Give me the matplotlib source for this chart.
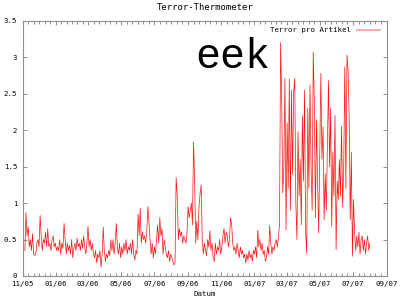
import numpy as np
import pandas as pd
import matplotlib
matplotlib.use('Agg')
import matplotlib.pyplot as plt
import matplotlib.dates as mdates
from matplotlib.lines import Line2D
from matplotlib.ticker import FixedLocator, FuncFormatter

plt.rcParams['font.family'] = 'DejaVu Sans Mono'
plt.rcParams['font.size'] = 5.3

# values, one every two days from 2005-11-05
start_date = '2005-11-05'
terror = [
    0.35, 0.87, 0.55, 0.68, 0.40, 0.50, 0.35, 0.58, 0.30, 0.28,
    0.30, 0.45, 0.50, 0.40, 0.83, 0.55, 0.35, 0.50, 0.45, 0.60,
    0.40, 0.65, 0.40, 0.45, 0.35, 0.50, 0.55, 0.40, 0.45, 0.35,
    0.40, 0.35, 0.50, 0.30, 0.45, 0.38, 0.72, 0.50, 0.30, 0.45,
    0.35, 0.42, 0.30, 0.50, 0.25, 0.38, 0.45, 0.35, 0.52, 0.40,
    0.45, 0.35, 0.50, 0.38, 0.55, 0.40, 0.30, 0.45, 0.68, 0.40,
    0.50, 0.35, 0.45, 0.30, 0.25, 0.35, 0.18, 0.30, 0.25, 0.35,
    0.12, 0.30, 0.67, 0.35, 0.20, 0.30, 0.25, 0.35, 0.28, 0.50,
    0.35, 0.50, 0.30, 0.45, 0.72, 0.40, 0.30, 0.45, 0.25, 0.40,
    0.30, 0.45, 0.35, 0.50, 0.30, 0.40, 0.35, 0.45, 0.30, 0.50,
    0.30, 0.22, 0.35, 0.30, 0.85, 0.55, 0.93, 0.45, 0.60, 0.50,
    0.55, 0.45, 0.60, 0.95, 0.75, 0.50, 0.30, 0.45, 0.25, 0.40,
    0.30, 0.50, 0.70, 0.45, 0.80, 0.55, 0.65, 0.30, 0.50, 0.40,
    0.30, 0.25, 0.35, 0.20, 0.30, 0.25, 0.20, 0.15, 0.18, 1.35,
    1.10, 0.50, 0.65, 0.55, 0.60, 0.45, 0.55, 0.50, 0.45, 0.60,
    0.95, 0.80, 0.90, 1.00, 0.70, 1.84, 1.30, 0.45, 0.75, 0.50,
    0.95, 1.12, 1.25, 0.50, 0.30, 0.45, 0.35, 0.28, 0.50, 0.40,
    0.62, 0.35, 0.45, 0.25, 0.20, 0.45, 0.30, 0.40, 0.35, 0.50,
    0.30, 0.40, 0.55, 0.65, 0.45, 0.60, 0.55, 0.40, 0.50, 0.80,
    0.72, 0.45, 0.35, 0.40, 0.30, 0.45, 0.35, 0.25, 0.40, 0.30,
    0.35, 0.25, 0.30, 0.18, 0.30, 0.22, 0.35, 0.25, 0.30, 0.20,
    0.35, 0.30, 0.40, 0.25, 0.63, 0.40, 0.50, 0.35, 0.45, 0.30,
    0.35, 0.20, 0.25, 0.40, 0.30, 0.69, 0.45, 0.30, 0.40, 0.35,
    0.45, 0.50, 0.40, 0.55, 0.70, 3.20, 2.41, 1.14, 1.50, 2.71,
    0.63, 2.10, 1.20, 2.70, 0.90, 2.55, 1.40, 2.51, 2.71, 1.00,
    0.50, 1.98, 1.10, 1.60, 0.70, 2.20, 1.30, 2.55, 0.60, 0.31,
    2.30, 1.20, 2.62, 1.50, 0.90, 3.07, 2.37, 0.80, 2.14, 1.30,
    0.59, 1.70, 2.78, 1.60, 2.05, 0.77, 1.40, 0.90, 1.80, 2.68,
    1.50, 2.30, 0.68, 1.70, 1.10, 2.20, 0.36, 1.30, 1.05, 1.60,
    1.10, 2.05, 0.95, 1.50, 2.87, 1.20, 3.03, 2.84, 2.18, 0.77,
    1.70, 0.27, 1.05, 0.60, 0.35, 0.55, 0.40, 0.60, 0.30, 0.50,
    0.55, 0.35, 0.50, 0.30, 0.45, 0.55, 0.35, 0.45,
]
dates = pd.date_range(start_date, periods=len(terror), freq='2D')

x_start = pd.Timestamp('2005-11-01')
x_end = pd.Timestamp('2007-09-01')
major_months = pd.date_range(x_start, x_end, freq='2MS')

fig = plt.figure(figsize=(4.0, 3.02), dpi=100)
ax = fig.add_axes([22.7 / 400, 1 - 276 / 302, (386.7 - 22.7) / 400, (276 - 20.7) / 302])

ax.plot(dates, terror, color='#ff1010', linewidth=0.5)

ax.set_xlim(x_start, x_end)
ax.set_ylim(0, 3.5)

# x ticks: every second month, 5 minor ticks in between
major_num = mdates.date2num(major_months)
minor_num = []
for a, b in zip(major_num[:-1], major_num[1:]):
    minor_num.extend(np.linspace(a, b, 7)[1:-1])
ax.xaxis.set_major_locator(FixedLocator(major_num))
ax.xaxis.set_minor_locator(FixedLocator(minor_num))
ax.xaxis.set_major_formatter(mdates.DateFormatter('%m/%y'))

ax.set_yticks(np.arange(0, 3.51, 0.5))
ax.yaxis.set_major_formatter(FuncFormatter(lambda v, p: '%g' % v))

for s in ax.spines.values():
    s.set_color('#909090')
    s.set_linewidth(0.8)
ax.tick_params(which='both', direction='in', top=True, right=True, color='#909090', width=0.7)
ax.tick_params(which='major', length=3)
ax.tick_params(which='minor', length=2)
ax.tick_params(axis='y', pad=4)
ax.tick_params(axis='x', pad=3.5)

ax.set_title('Terror-Thermometer', pad=8)
ax.set_xlabel('Datum', labelpad=3)

handle = Line2D([], [], color='#ffa8a8', linewidth=1.4)
ax.legend([handle], ['Terror pro Artikel'], loc='upper right', frameon=False,
          markerfirst=False, handlelength=3.2, handletextpad=0.8,
          borderaxespad=0.5, fontsize=5.3)

ax.text(0.473, 0.815, 'eek', transform=ax.transAxes, ha='left', va='baseline',
        fontsize=30, family='Liberation Mono')

fig.savefig('out.png', dpi=100)
